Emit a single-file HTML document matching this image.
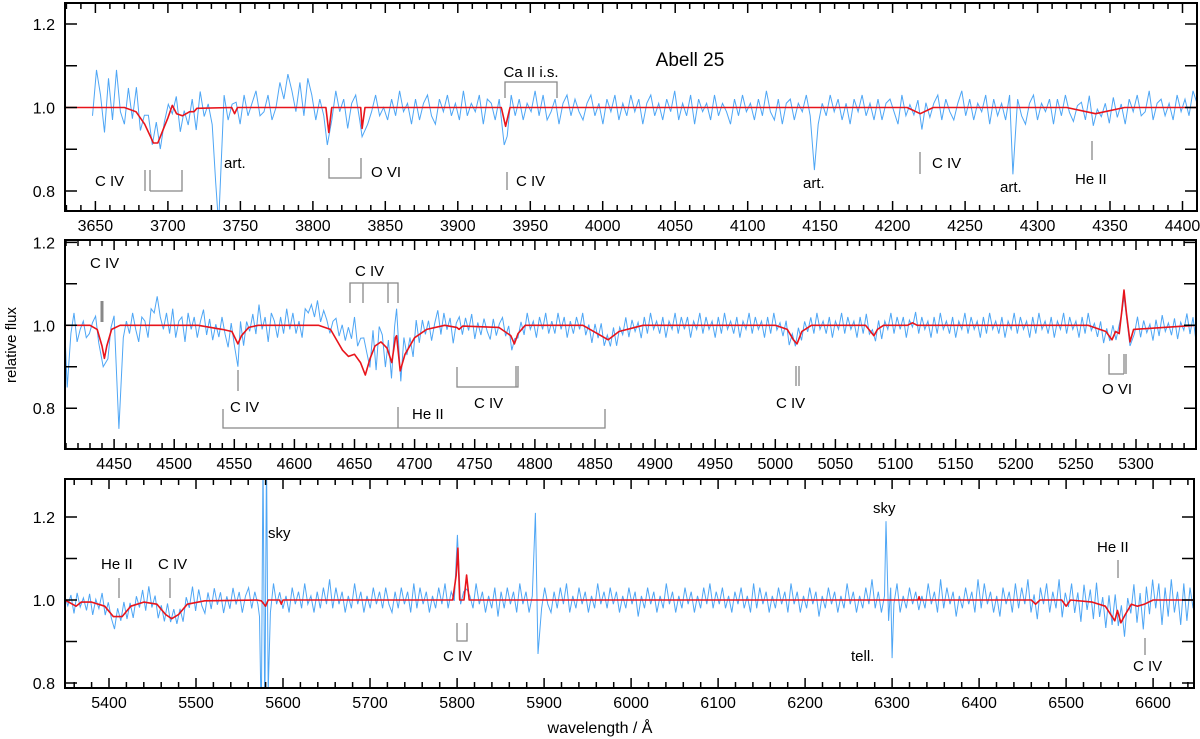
<!DOCTYPE html>
<html><head><meta charset="utf-8"><style>
html,body{margin:0;padding:0;background:#fff}
svg{display:block;font-family:"Liberation Sans",sans-serif}
</style></head><body>
<svg id="chart" width="1200" height="739" viewBox="0 0 1200 739" xmlns="http://www.w3.org/2000/svg">
<g id="panels"></g>
<g id="annot" font-size="15" fill="#000" stroke-linecap="butt">
 <text x="16" y="345" font-size="15" text-anchor="middle" transform="rotate(-90 16 345)">relative flux</text>
 <text x="600" y="733" font-size="16" text-anchor="middle">wavelength / Å</text>
 <text x="690" y="66" font-size="19" text-anchor="middle">Abell 25</text>
 <g stroke="#888" stroke-width="1.3" fill="none">
  <path d="M505,98V82H557V98"/>
  <path d="M507,172V190"/>
  <path d="M145,170V191M150,170V191M150,191H182V170"/>
  <path d="M329,158V178H361V158"/>
  <path d="M920,152V174"/>
  <path d="M1092,141V160"/>
 </g>
 <text x="531" y="77" text-anchor="middle">Ca II i.s.</text>
 <text x="516" y="186">C IV</text>
 <text x="95" y="186">C IV</text>
 <text x="224" y="168">art.</text>
 <text x="371" y="177">O VI</text>
 <text x="932" y="168">C IV</text>
 <text x="803" y="188">art.</text>
 <text x="1000" y="192">art.</text>
 <text x="1075" y="184">He II</text>

 <g stroke="#888" stroke-width="1.3" fill="none">
  <path d="M102,301V322" stroke-width="3"/>
  <path d="M350,303V283H398V303M363,283V303M388,283V303"/>
  <path d="M238,370V391"/>
  <path d="M223,409V428H605V409M398,407V428"/>
  <path d="M457,367V387H518V366M516,366V387"/>
  <path d="M796,366V386M799,366V386"/>
  <path d="M1109,354V374H1124M1124,354V374M1126,354V374"/>
 </g>
 <text x="90" y="268">C IV</text>
 <text x="355" y="276">C IV</text>
 <text x="230" y="412">C IV</text>
 <text x="412" y="419">He II</text>
 <text x="474" y="408">C IV</text>
 <text x="776" y="408">C IV</text>
 <text x="1117" y="394" text-anchor="middle">O VI</text>

 <g stroke="#888" stroke-width="1.3" fill="none">
  <path d="M119,578V598M170,578V598"/>
  <path d="M457,623V641H467V623"/>
  <path d="M1118,560V578M1145,638V655"/>
 </g>
 <text x="268" y="538">sky</text>
 <text x="101" y="569">He II</text>
 <text x="158" y="569">C IV</text>
 <text x="443" y="661">C IV</text>
 <text x="873" y="513">sky</text>
 <text x="851" y="661">tell.</text>
 <text x="1097" y="552">He II</text>
 <text x="1133" y="671">C IV</text>
</g>
</svg>
<script>
// ---------- data ----------
const p1ModelW=[3629,3670,3678,3684,3688,3690,3693,3697,3700,3703,3706,3710,3715,3718,3720,3744,3746,3748,3809,3811,3813,3833,3834,3836,3930,3933,3936,4210,4219,4228,4320,4340,4360,4410];
const p1ModelF=[1.0,1.0,0.99,0.96,0.93,0.915,0.915,0.95,0.975,1.005,0.985,0.98,0.99,0.99,0.998,1.0,0.985,1.0,1.0,0.94,1.0,1.0,0.95,1.0,1.0,0.955,1.0,1.0,0.985,1.0,1.0,0.985,1.0,1.0];
const p1ObsRange=[3648,4410];
const p1Noise=[-20,90,30,-60,70,-30,90,-10,-40,50,-20,60,-30,20,40,-10,50,-30,10,30,-20,40,-40,10,-30,30,-50,40,-20,10,-40,20,-10,30,-30,10,20,-40,30,-20,10,40,-20,-10,30,-30,0,60,20,80,40,-10,60,-20,70,30,-30,20,-20,10,-30,40,-10,20,-50,10,30,-30,20,-40,-10,30,-20,0,-30,20,-20,40,-10,10,-40,20,-30,10,30,-20,-40,20,-10,30,-20,10,-30,40,-20,10,-10,30,-40,20,10,-30,20,-10,-40,30,-20,20,-30,10,-10,40,-20,30,-30,-10,20,-40,10,30,-20,20,-10,-30,10,30,-20,10,-40,20,-10,30,-30,10,-20,30,-10,20,-40,10,30,-20,10,-30,20,-10,40,-30,10,-20,30,-40,20,-10,10,-30,30,-20,10,-10,-40,20,-20,30,-10,10,-30,20,-20,40,-10,-30,20,-40,10,20,-30,10,-10,30,-20,20,-40,10,-20,30,-10,20,-30,10,-40,20,-10,30,-20,10,-30,20,-30,10,20,-10,-40,30,-20,10,-10,30,-40,20,-20,10,30,-30,20,-10,-30,10,40,-20,20,-30,10,-10,30,-40,20,-20,10,-30,30,-10,20,-20,-40,10,30,-30,10,-10,20,-40,20,-20,30,-10,-30,10,20,-20,40,-30,10,-10,20,-30,30,-20,10,-40,20,-10,30,-20,-10,40,-30,10,20,-20,10,-30,30,-10,20,-20,40,10];
const p1SpikeW=[3733,3735,3810,3834,3932,4146,4283];
const p1SpikeF=[0.82,0.72,0.91,0.93,0.91,0.85,0.84];

const p2ModelW=[4409,4430,4436,4440,4442,4444,4448,4455,4520,4540,4548,4553,4556,4562,4570,4620,4630,4636,4640,4645,4650,4655,4659,4663,4667,4672,4677,4681,4684,4685,4688,4692,4700,4710,4725,4735,4737,4740,4770,4780,4783,4786,4792,4840,4855,4861,4870,4890,5000,5010,5015,5018,5022,5030,5075,5082,5085,5090,5110,5114,5118,5260,5275,5280,5283,5286,5288,5290,5292,5295,5298,5350];
const p2ModelF=[1.0,1.0,0.99,0.95,0.92,0.95,0.99,1.0,1.0,0.99,0.985,0.955,0.975,0.995,1.0,1.0,0.99,0.96,0.94,0.925,0.93,0.91,0.88,0.92,0.95,0.96,0.945,0.91,0.97,0.975,0.89,0.93,0.97,0.99,1.0,0.995,0.99,0.998,0.995,0.975,0.955,0.98,1.0,1.0,0.975,0.965,0.985,1.0,1.0,0.99,0.965,0.955,0.985,1.0,1.0,0.975,0.99,1.0,1.0,1.006,1.0,1.0,0.985,0.965,0.985,0.98,1.03,1.085,1.03,0.96,0.99,1.0];
const p2ObsRange=[4409,5350];
const p2Noise=[-10,20,-20,30,-40,-10,10,-30,-20,10,30,-20,20,-10,-40,10,30,-20,40,-30,10,-20,30,-10,-40,20,10,-30,40,30,70,20,-10,30,-20,40,-30,10,20,-40,30,-10,20,-30,10,40,-20,20,-30,10,-20,30,-10,-40,20,-20,10,40,-30,20,-10,30,-20,50,-10,20,-40,30,10,-30,20,-20,40,-10,30,-20,10,-30,40,30,50,20,60,10,40,20,-10,30,50,20,60,30,70,40,90,30,60,80,40,-20,50,-60,40,20,-50,30,-40,40,70,-30,50,-10,20,-40,40,-20,30,-10,20,-30,10,40,-20,30,-10,20,-40,10,30,-20,20,-10,30,-30,10,-20,20,-10,-30,20,-20,10,30,-10,20,-30,10,-10,20,-20,30,-10,10,-30,20,-10,30,-20,10,-20,30,-10,20,-30,10,-20,20,-10,30,-20,10,-30,20,-10,30,-20,10,-20,20,-30,10,-10,30,-20,20,-10,10,-30,20,-20,30,-10,10,-20,20,-30,10,-10,30,-20,20,-10,20,-30,10,-10,30,-20,20,-10,10,-30,20,-20,30,-10,10,-20,20,-30,10,-10,30,-20,20,-10,10,-30,20,-20,30,-10,10,-20,20,-30,10,-10,30,-20,20,-10,20,-20,30,-10,10,-20,20,-30,10,-10,30,-20,20,-10,10,-30,20,-20,30,-10,10,-20,20,-30,10,-10,30,-20,20,-10,20,-30,10,-10,30,-20,20,-10,10,-30,20,-20,30,-10,10,-20,20,-30,10,-10,30,-20,20,-10,10,-30,20,-20,30,-10,10,-20,20,-30,10,-10,30,-20,20,-10,10,-30,20,-20,30,-10,10,-20,20,-30,10,-10,30,-20,20,-10,10,-30,20,-20,30,-10,10,-20,20,-30,10,-10,30,-20,20,-10,20,-30,10,-10,30,-20,20,-10,10,-30,20,-20,30,-10,10,-20,20,-30,10,-10,30,-20,20,-40];
const p2SpikeW=[4411,4441,4454,4553,4685,5290,5295];
const p2SpikeF=[0.85,0.9,0.75,0.9,1.04,1.07,0.95];

const p3ModelW=[5349,5358,5362,5368,5380,5395,5405,5415,5425,5440,5455,5465,5472,5480,5490,5510,5570,5575,5580,5583,5596,5598,5600,5795,5799,5801,5803,5808,5811,5814,6300,6330,6331,6332,6460,6465,6470,6495,6500,6505,6530,6545,6556,6559,6563,6568,6575,6582,6590,6600,6646];
const p3ModelF=[1.0,0.99,0.985,0.995,0.995,0.985,0.96,0.96,0.985,0.995,0.99,0.965,0.955,0.965,0.99,0.998,1.0,0.998,0.985,1.0,1.0,0.99,1.0,1.0,1.06,1.125,1.0,1.0,1.06,1.0,1.0,1.0,1.008,1.0,1.0,0.99,1.0,1.0,0.985,1.0,0.995,0.985,0.95,0.975,0.945,0.965,0.99,0.985,0.99,1.0,1.0];
const p3ObsRange=[5349,6646];
const p3Noise=[10,-10,20,-20,30,-10,10,-20,20,-30,10,-10,30,-20,20,-10,-30,20,-10,30,-20,10,-30,20,-10,30,-20,40,-10,20,-30,10,-20,30,-10,20,-20,10,-30,20,-10,40,-20,30,-10,-30,20,-20,30,-10,20,-30,10,-20,30,-10,20,-30,10,30,-20,20,-10,30,-20,10,-30,40,-10,20,-20,10,-30,30,-10,20,-20,40,-10,10,-30,20,-20,30,-10,50,-20,30,-10,20,-30,10,-20,40,-10,20,-30,10,-20,30,-10,20,-20,30,-10,-30,20,-20,30,-10,20,-30,40,-20,30,-10,20,-30,10,-20,30,-10,40,-20,20,-30,50,-10,20,-30,10,-20,40,-10,20,-30,10,-20,30,-40,20,-20,30,-10,20,-30,40,-10,20,-30,10,-20,50,-20,30,-10,-30,20,-20,30,-10,40,-30,10,-20,30,-10,20,-30,10,-20,40,-10,20,-20,30,-10,20,-30,10,-20,30,-10,20,-40,10,-20,30,-10,20,-30,10,-20,40,-10,20,-30,10,-20,30,-10,20,-30,10,-20,30,-10,40,-20,20,-10,30,-20,10,-30,20,-10,30,-20,10,-30,40,-20,30,-10,20,-30,10,-20,30,-10,20,-30,40,-10,20,-30,10,-20,30,-10,20,-40,10,-20,30,-10,20,-30,10,-20,40,-10,20,-30,10,-20,30,-10,50,-20,20,-30,10,-20,30,-10,40,-30,10,-20,30,-10,20,-30,10,-20,40,-10,20,-30,50,-20,30,-10,20,-40,10,-20,30,-10,20,-30,50,-20,40,-10,20,-30,10,-40,30,-10,20,-30,40,-20,30,-10,50,-30,20,-40,30,-10,40,-30,20,-20,50,-40,30,-10,40,-30,20,-50,40,-20,30,-40,50,-30,20,-50,40,-20,60,-30,40,-50,30,-20,50,-40,30,-60,40,-30,50,-20,40,-60,30,-40,50,-30,20,-60,40,-50,30,-20];
const p3SpikeW=[5573,5575,5577,5579,5581,5583,5890,5893,6293,6296,6300];
const p3SpikeF=[0.96,0.7,1.35,0.7,1.35,0.78,1.21,0.87,1.19,0.95,0.86];

// ---------- rendering (geometry only) ----------
const NS="http://www.w3.org/2000/svg";
const panels=[
 {x0:65,x1:1197,y0:3,y1:211,wmin:3629,wmax:4410,fTop:1.2503,fBot:0.752,major:50,minor:10,
  mW:p1ModelW,mF:p1ModelF,range:p1ObsRange,noise:p1Noise,sW:p1SpikeW,sF:p1SpikeF},
 {x0:65,x1:1196,y0:240,y1:449,wmin:4409.2,wmax:5349.9,fTop:1.2058,fBot:0.7015,major:50,minor:10,
  mW:p2ModelW,mF:p2ModelF,range:p2ObsRange,noise:p2Noise,sW:p2SpikeW,sF:p2SpikeF},
 {x0:65,x1:1194,y0:479,y1:688,wmin:5349.4,wmax:6647,fTop:1.2916,fBot:0.788,major:100,minor:20,
  mW:p3ModelW,mF:p3ModelF,range:p3ObsRange,noise:p3Noise,sW:p3SpikeW,sF:p3SpikeF}
];
function mk(tag,attrs,parent){const e=document.createElementNS(NS,tag);for(const k in attrs)e.setAttribute(k,attrs[k]);parent.appendChild(e);return e;}
function interp(W,F,w){if(w<=W[0])return F[0];for(let i=1;i<W.length;i++){if(w<=W[i]){const t=(w-W[i-1])/(W[i]-W[i-1]);return F[i-1]+t*(F[i]-F[i-1]);}}return F[F.length-1];}
const root=document.getElementById('panels');
panels.forEach((p,pi)=>{
 const X=w=>p.x0+(w-p.wmin)/(p.wmax-p.wmin)*(p.x1-p.x0);
 const Y=f=>p.y0+(p.fTop-f)/(p.fTop-p.fBot)*(p.y1-p.y0);
 const g=mk('g',{},root);
 
 
 const cp=mk('clipPath',{id:'clip'+pi},g);
 mk('rect',{x:p.x0,y:p.y0,width:p.x1-p.x0,height:p.y1-p.y0},cp);
 const n=p.noise.length, step=(p.range[1]-p.range[0])/(n-1);
 let fl=[];for(let i=0;i<n;i++){const w=p.range[0]+i*step;fl.push([w,interp(p.mW,p.mF,w)+p.noise[i]/1000]);}
 fl=fl.filter(q=>!p.sW.some(sw=>Math.abs(q[0]-sw)<1.5));
 p.sW.forEach((sw,k)=>fl.push([sw,p.sF[k]]));
 fl.sort((a,b)=>a[0]-b[0]);
 const obs=mk('path',{d:'M'+fl.map(q=>X(q[0]).toFixed(1)+','+Y(q[1]).toFixed(1)).join('L'),fill:'none',stroke:'#4ea6f5','stroke-width':1,'clip-path':'url(#clip'+pi+')'},g);
 
 
 const mod=mk('path',{d:'M'+p.mW.map((w,i)=>X(w).toFixed(1)+','+Y(p.mF[i]).toFixed(1)).join('L'),fill:'none',stroke:'#e8141b','stroke-width':1.6,'stroke-linejoin':'round','clip-path':'url(#clip'+pi+')'},g);
 
 
 const fr=mk('rect',{x:p.x0,y:p.y0,width:p.x1-p.x0,height:p.y1-p.y0,fill:'none',stroke:'#000','stroke-width':2},g);
 
 
 let d='';
 for(let w=Math.ceil(p.wmin/p.minor)*p.minor;w<=p.wmax;w+=p.minor){
  const xv=X(w);const x=xv.toFixed(1);const L=(w%p.major===0)?10:6;
  d+=`M${x},${p.y1}V${p.y1-L}M${x},${p.y0}V${p.y0+L}`;
  if(w%p.major===0 && xv>p.x0+10){const t=mk('text',{x:x,y:p.y1+20,'text-anchor':'middle','font-size':16},g);t.textContent=w;
   
   }
 }
 for(let k=-5;k<=5;k++){const f=1+k*0.1;if(f<p.fBot||f>p.fTop)continue;const y=Y(f).toFixed(1);
  d+=`M${p.x0},${y}H${p.x0+12}M${p.x1},${y}H${p.x1-12}`;
  if(k%2===0){const t=mk('text',{x:p.x0-10,y:+y+6,'text-anchor':'end','font-size':16},g);t.textContent=f.toFixed(1);
   
   }
 }
 const tk=mk('path',{d:d,stroke:'#000','stroke-width':1.5,fill:'none'},g);
 
 
});
</script>
</body></html>
